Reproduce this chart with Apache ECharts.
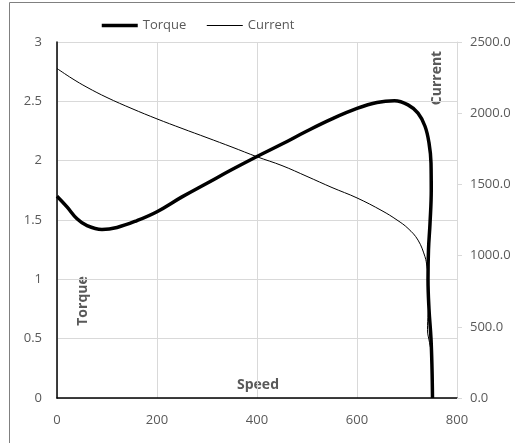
<!DOCTYPE html>
<html>
<head>
<meta charset="utf-8">
<script src="https://cdn.jsdelivr.net/npm/echarts@6/dist/echarts.min.js"></script>
<style>
html,body{margin:0;padding:0;background:#fff;}
#chart{width:515px;height:443px;}
</style>
</head>
<body>
<div id="chart"></div>
<script>
// Data
var torqueSpeed = [0, 20, 40, 60, 90, 120, 160, 200, 250, 300, 350, 400, 450, 500, 550, 600, 640, 675, 702, 722, 736, 744, 748, 748.5, 746, 743, 742, 744, 748, 750, 751];
var torqueValues = [1.70, 1.61, 1.51, 1.452, 1.42, 1.437, 1.495, 1.57, 1.695, 1.81, 1.925, 2.035, 2.14, 2.25, 2.352, 2.44, 2.49, 2.504, 2.47, 2.40, 2.29, 2.15, 1.98, 1.75, 1.47, 1.25, 1.0, 0.75, 0.5, 0.25, 0];
var currentSpeed = [0, 30, 60, 100, 150, 200, 250, 300, 350, 400, 450, 500, 550, 600, 650, 680, 702, 722, 736, 740, 742, 743.5, 741, 745, 749, 750.5, 751];
var currentValues = [2314, 2244, 2182, 2110, 2032, 1960, 1893, 1828, 1762, 1694, 1632, 1556, 1478, 1405, 1315, 1250, 1191, 1109, 992, 922, 870, 700, 480, 390, 310, 150, 0];
var xTicks = [0, 200, 400, 600, 800];
var torqueTicks = [0, 0.5, 1, 1.5, 2, 2.5, 3];
var currentTicks = [0, 500, 1000, 1500, 2000, 2500];

function pairs(xs, ys) { return xs.map(function (x, i) { return [x, ys[i]]; }); }

var FONT = 'Open Sans';
var chart = echarts.init(document.getElementById('chart'));
chart.setOption({
  animation: false,
  textStyle: { fontFamily: FONT },
  legend: {
    left: 95, top: 14,
    itemWidth: 36, itemHeight: 10, itemGap: 20,
    itemStyle: { opacity: 0 },
    textStyle: { color: '#595959', fontSize: 13, fontFamily: FONT },
    data: [
      { name: 'Torque', lineStyle: { width: 3.5, color: '#000' } },
      { name: 'Current', lineStyle: { width: 1, color: '#000' } }
    ]
  },
  grid: { left: 57, right: 58, top: 42, bottom: 45 },
  xAxis: {
    type: 'value', min: xTicks[0], max: xTicks[xTicks.length - 1], interval: 200,
    axisLine: { show: true, lineStyle: { color: '#000', width: 1.5 } },
    axisTick: { show: false },
    axisLabel: { color: '#595959', fontSize: 13, margin: 16, fontFamily: FONT },
    splitLine: { show: true, lineStyle: { color: '#d9d9d9', width: 1 } }
  },
  yAxis: [{
    type: 'value', min: torqueTicks[0], max: torqueTicks[torqueTicks.length - 1], interval: 0.5,
    axisLine: { show: true, lineStyle: { color: '#000', width: 1.5 } },
    axisTick: { show: false },
    axisLabel: { color: '#595959', fontSize: 13, margin: 15, fontFamily: FONT },
    splitLine: { show: true, lineStyle: { color: '#d9d9d9', width: 1 } }
  }, {
    type: 'value', position: 'right', min: currentTicks[0], max: currentTicks[currentTicks.length - 1], interval: 500,
    axisLine: { show: true, lineStyle: { color: '#d9d9d9', width: 1 } },
    axisTick: { show: true, length: 5, lineStyle: { color: '#d9d9d9' } },
    axisLabel: { color: '#595959', fontSize: 13, margin: 13, fontFamily: FONT,
      formatter: function (v) { return v.toFixed(1); } },
    splitLine: { show: false }
  }],
  series: [{
    name: 'Torque', type: 'line', yAxisIndex: 0,
    data: pairs(torqueSpeed, torqueValues),
    showSymbol: false, symbol: 'none', smooth: 0.4,
    lineStyle: { color: '#000', width: 3.5 },
    itemStyle: { color: '#000' }, z: 3
  }, {
    name: 'Current', type: 'line', yAxisIndex: 1,
    data: pairs(currentSpeed, currentValues),
    showSymbol: false, symbol: 'none', smooth: 0.4,
    lineStyle: { color: '#000', width: 1 },
    itemStyle: { color: '#000' }, z: 2
  }],
  graphic: [{
    type: 'rect', left: 7, top: 0, silent: true, z: -10,
    shape: { x: 0, y: 0, width: 507, height: 442 },
    style: { fill: 'none', stroke: '#808080', lineWidth: 1 }
  }, {
    type: 'text', x: 83, y: 301, rotation: Math.PI / 2, silent: true,
    style: { text: 'Torque', fill: '#595959', font: 'bold 14px "Open Sans"', align: 'center', verticalAlign: 'middle' }
  }, {
    type: 'text', x: 437, y: 78, rotation: Math.PI / 2, silent: true,
    style: { text: 'Current', fill: '#595959', font: 'bold 14px "Open Sans"', align: 'center', verticalAlign: 'middle' }
  }, {
    type: 'text', x: 258, y: 385, silent: true,
    style: { text: 'Speed', fill: '#595959', font: 'bold 14px "Open Sans"', align: 'center', verticalAlign: 'middle' }
  }]
});
</script>
</body>
</html>
